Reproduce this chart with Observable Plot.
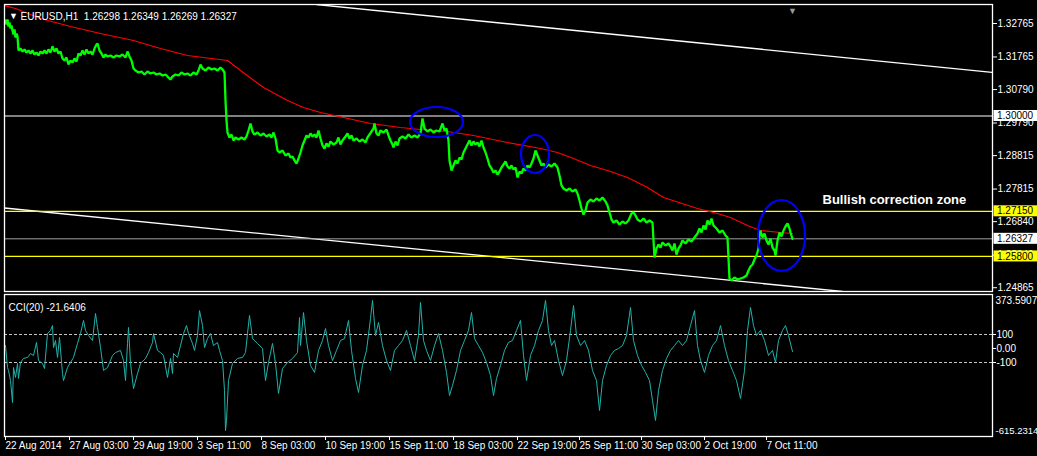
<!DOCTYPE html>
<html><head><meta charset="utf-8">
<script src="https://cdn.jsdelivr.net/npm/d3@7"></script>
<script src="https://cdn.jsdelivr.net/npm/@observablehq/plot@0.6"></script>
<style>
html,body{margin:0;padding:0;background:#000;}
#wrap{position:relative;width:1037px;height:456px;overflow:hidden;background:#000;}
#main{position:absolute;left:0;top:0;}
#cci{position:absolute;left:0;top:293px;}
svg{display:block;}
</style></head><body><div id="wrap"><div id="main"></div><div id="cci"></div></div>
<script>
// ---- data (bar index = hourly bar position, price in EURUSD) ----
const priceBar = [0,1,2,3,4,5,6,7,8,9,10,11,12,13,15,17,19,21,23,25,27,29,31,33,35,37,39,41,43,45,47,49,51,53,55,57,59,61,63,65,67,69,71,73,75,77,79,81,83,85,87,89,91,92,94,96,98,100,102,105,108,111,114,117,120,122,124,126,128,130,133,136,139,142,145,148,151,154,157,160,163,165,167,170,173,176,179,182,185,188,191,193,195,197,200,203,206,209,212,215,217,219,220,221,222,224,226,228,230,233,236,239,241,243,245,247,249,252,255,258,261,264,266,268,270,272,274,277,280,283,285,287,289,291,293,295,297,299,301,303,305,307,309,311,313,315,317,319,321,323,325,328,331,333,335,337,340,342,344,346,348,351,354,357,360,362,364,366,368,369,371,373,375,378,381,383,385,387,388,390,392,394,397,400,403,406,409,412,415,417,419,422,425,428,431,434,437,439,441,443,444,446,448,450,452,454,456,458,460,462,464,466,468,470,472,474,476,478,480,482,484,486,488,490,492,494,496,498,500,502,504,506,508,510,512,514,516,518,520,522,524,526,528,530,532,534,536,538,540,543,546,549,552,554,556,558,561,564,567,570,572,574,576,578,580,582,585,588,591,594,597,600,602,604,606,608,611,614,617,620,623,626,628,630,632,635,638,641,644,647,648,649,651,653,655,657,660,663,665,667,669,671,673,675,677,680,683,686,689,692,694,696,698,700,702,704,706,708,711,714,717,720,722,724,726,729,732,735,738,741,743,745,747,749,751,753,754,755,757,759,761,763,765,767,769,770,772,774,776,778,780,782,784,785,787];
const priceClose = [1.32855,1.32735,1.32885,1.32676,1.32795,1.32616,1.32706,1.32556,1.32436,1.32586,1.32347,1.32466,1.32377,1.31958,1.32018,1.31928,1.31988,1.31898,1.31958,1.31868,1.31958,1.31838,1.31898,1.31809,1.31928,1.31868,1.31958,1.31868,1.31988,1.31898,1.32078,1.31928,1.32018,1.31868,1.31928,1.31719,1.31659,1.31749,1.31539,1.31659,1.31599,1.31719,1.31629,1.31868,1.31809,1.31958,1.31838,1.31988,1.31868,1.31928,1.31838,1.32018,1.32137,1.32167,1.31958,1.31868,1.31749,1.31838,1.31779,1.31809,1.31749,1.31809,1.31779,1.31838,1.31749,1.31928,1.31779,1.31659,1.31420,1.31360,1.31300,1.31330,1.31240,1.31330,1.31270,1.31300,1.31240,1.31270,1.31211,1.31240,1.31151,1.31091,1.31181,1.31240,1.31211,1.31300,1.31240,1.31270,1.31211,1.31300,1.31240,1.31360,1.31539,1.31420,1.31360,1.31450,1.31390,1.31420,1.31360,1.31450,1.31390,1.31300,1.30463,1.29865,1.29506,1.29357,1.29446,1.29267,1.29357,1.29297,1.29357,1.29297,1.29387,1.29566,1.29775,1.29536,1.29446,1.29506,1.29417,1.29476,1.29387,1.29446,1.29357,1.29506,1.29327,1.28968,1.28908,1.28968,1.28819,1.28878,1.28759,1.28789,1.28669,1.28579,1.28729,1.28908,1.29118,1.29267,1.29417,1.29357,1.29476,1.29387,1.29446,1.29357,1.29566,1.29327,1.29118,1.29028,1.29177,1.29088,1.29237,1.29147,1.29207,1.29357,1.29147,1.29267,1.29387,1.29476,1.29327,1.29417,1.29267,1.29327,1.29237,1.29297,1.29207,1.29357,1.29446,1.29536,1.29626,1.29775,1.29476,1.29417,1.29566,1.29506,1.29596,1.29417,1.29267,1.29147,1.29058,1.29237,1.29118,1.29327,1.29387,1.29327,1.29446,1.29357,1.29417,1.29357,1.29476,1.29925,1.29626,1.29536,1.29596,1.29506,1.29566,1.29536,1.29775,1.29566,1.29626,1.29267,1.28669,1.28370,1.28520,1.28669,1.28579,1.28759,1.28699,1.28908,1.29028,1.29147,1.29267,1.29118,1.29237,1.29147,1.29207,1.29088,1.29267,1.29058,1.28908,1.28729,1.28520,1.28430,1.28310,1.28370,1.28250,1.28340,1.28460,1.28549,1.28639,1.28490,1.28430,1.28520,1.28400,1.28460,1.28161,1.28340,1.28280,1.28430,1.28370,1.28520,1.28460,1.28579,1.28729,1.28968,1.28819,1.28669,1.28520,1.28579,1.28460,1.28549,1.28490,1.28579,1.28460,1.28221,1.27922,1.27832,1.27772,1.27832,1.27742,1.27802,1.27682,1.27473,1.27234,1.27054,1.27174,1.27413,1.27503,1.27443,1.27533,1.27473,1.27563,1.27443,1.27324,1.27114,1.26905,1.26815,1.26875,1.26755,1.26845,1.26785,1.26875,1.27084,1.27114,1.27025,1.26905,1.26845,1.26935,1.26815,1.26875,1.26815,1.26277,1.25769,1.26038,1.26157,1.26068,1.26217,1.26128,1.26187,1.26098,1.25978,1.26187,1.25858,1.26038,1.26128,1.26277,1.26187,1.26307,1.26247,1.26367,1.26486,1.26636,1.26516,1.26726,1.26606,1.26875,1.26755,1.26935,1.26726,1.26636,1.26516,1.26576,1.26427,1.26367,1.25141,1.25081,1.25171,1.25111,1.25141,1.25171,1.25231,1.25380,1.25500,1.25559,1.25709,1.25829,1.26038,1.26427,1.26576,1.26367,1.26486,1.26277,1.26157,1.26337,1.26068,1.25978,1.25829,1.26277,1.26516,1.26397,1.26576,1.26696,1.26785,1.26636,1.26516,1.26327];

const maBar = [0,10,35,65,95,128,155,182,222,235,258,282,298,315,338,365,395,415,442,468,502,535,552,568,585,602,622,642,658,692,712,725,742,755,775,787];
const maValue = [1.33290,1.33214,1.32915,1.32676,1.32466,1.32257,1.32018,1.31809,1.31659,1.31360,1.30852,1.30463,1.30254,1.30104,1.29955,1.29775,1.29656,1.29596,1.29536,1.29417,1.29207,1.29028,1.28908,1.28729,1.28520,1.28370,1.28161,1.27862,1.27563,1.27234,1.27084,1.26965,1.26726,1.26576,1.26516,1.26486];

const cciBar = [0,2,3,5,7,8,10,12,13,15,18,22,25,28,31,33,37,39,42,45,47,48,50,52,54,57,58,62,65,68,72,75,78,80,83,87,90,92,95,98,102,107,110,115,118,120,122,123,125,128,132,135,140,143,147,148,152,155,158,162,165,167,168,172,175,178,181,183,187,189,192,194,197,199,202,205,208,212,214,217,219,220,221,223,227,232,237,240,242,244,247,252,257,260,263,267,270,273,277,282,287,292,294,295,298,301,305,309,313,317,320,323,327,331,335,339,343,346,350,353,357,361,365,367,370,373,377,381,385,389,393,397,401,405,409,413,415,418,421,425,429,433,437,441,444,447,451,455,459,463,466,469,473,477,481,485,488,491,495,499,503,507,511,515,518,521,525,529,533,537,540,543,546,549,553,557,561,565,568,571,575,579,583,587,591,594,597,601,605,609,613,617,621,625,628,632,636,640,644,647,650,653,657,661,665,669,673,677,681,685,689,692,695,699,703,707,711,715,719,723,727,731,735,739,742,745,748,751,755,759,763,767,770,773,777,780,783,787];
const cciValue = [21,-136,-157,-229,-386,-136,-207,-107,-214,-100,-71,-64,-36,-50,43,-86,-107,-143,107,129,164,7,57,-64,79,-179,-229,-136,-100,-64,36,107,200,129,93,57,250,150,7,-157,-136,-50,-29,-14,-86,-229,36,150,-107,-286,-179,-107,-71,-29,43,107,-14,-29,-50,-207,-71,-179,-36,-64,21,107,164,107,36,-14,93,271,164,7,71,107,21,43,-14,-86,-300,-586,-514,-229,-107,-71,-64,-29,107,236,71,36,0,-229,-100,36,-107,-321,-143,-100,-71,-29,221,21,257,57,-121,-171,-14,57,143,21,-86,-14,57,71,200,-14,-214,-314,-121,-14,214,343,93,186,21,-86,-157,-14,21,57,129,21,-86,93,329,57,-14,-86,21,107,-14,-171,-336,-264,-157,-14,57,129,257,71,21,-29,-100,-193,-336,-214,-121,-14,43,57,129,200,-50,-229,-50,21,129,200,343,129,21,57,-86,-193,-86,129,307,93,21,57,-14,-157,-229,-443,-229,-121,-50,-14,0,21,93,293,57,-50,-121,-171,-229,-371,-514,-300,-157,-71,-14,21,57,21,57,164,271,21,-86,-171,-50,21,57,164,21,-86,-157,-229,-357,-157,129,293,164,93,129,57,-50,-14,-100,57,129,164,93,-21.6406];

const upperTrendBar = [311, 987];
const upperTrendPrice = [1.33333, 1.31300];
const lowerTrendBar = [-1, 837];
const lowerTrendPrice = [1.27249, 1.24752];

const whiteLevels = [1.30000];
const yellowLevels = [1.27150, 1.25800];
const currentLevel = [1.26327];

const priceTicks = [1.32765, 1.31765, 1.30790, 1.29790, 1.28815, 1.27815, 1.26840, 1.25840, 1.24865];
const markedLevels = [1.30000, 1.27150, 1.26327, 1.25800];
const markedKinds = ["white", "yellow", "white", "yellow"];

const timeTickBars = [0, 64, 128, 192, 256, 320, 384, 448, 512, 574, 636, 699, 761];
const timeTickLabels = ["22 Aug 2014","27 Aug 03:00","29 Aug 19:00","3 Sep 11:00","8 Sep 03:00","10 Sep 19:00","15 Sep 11:00","18 Sep 03:00","22 Sep 19:00","25 Sep 11:00","30 Sep 03:00","2 Oct 19:00","7 Oct 11:00"];

const cciLevels = [100, -100];
const cciTicks = [100, 0, -100];
const cciMax = 373.5907, cciMin = -615.2314;

const headerText = "EURUSD,H1\u00a0 1.26298 1.26349 1.26269 1.26327";
const cciTitle = "CCI(20) -21.6406";
const zoneText = "Bullish correction zone";
const zoneBar = 817, zonePrice = 1.27503;

// ellipse annotations: centre bar, centre price, half-width in bars, half-height in price
const ellBar = [431.5, 530, 776.5];
const ellPrice = [1.29805, 1.28848, 1.26412];
const ellRx = [26.5, 14, 23.5];
const ellRy = [0.00449, 0.00568, 0.01061];

// ---- build ----
const FONT = "'Liberation Sans', Arial, sans-serif";
const priceData = priceBar.map((b, i) => ({bar: b, price: priceClose[i]}));
const maData = maBar.map((b, i) => ({bar: b, price: maValue[i]}));
const upData = upperTrendBar.map((b, i) => ({bar: b, price: upperTrendPrice[i]}));
const loData = lowerTrendBar.map((b, i) => ({bar: b, price: lowerTrendPrice[i]}));
const cciData = cciBar.map((b, i) => ({bar: b, v: cciValue[i]}));
const lastBar = priceBar[priceBar.length - 1];

const baseStyle = {background: "#000", color: "#fff", fontFamily: FONT, fontSize: "10px", overflow: "visible"};

const main = Plot.plot({
  width: 1037, height: 292,
  marginLeft: 4, marginRight: 45, marginTop: 4, marginBottom: 1,
  style: baseStyle,
  x: {domain: [-1, 987], axis: null},
  y: {domain: [1.247521, 1.333334], axis: null},
  marks: [
    Plot.line(upData, {x: "bar", y: "price", stroke: "#fff", strokeWidth: 1.3, clip: true}),
    Plot.line(loData, {x: "bar", y: "price", stroke: "#fff", strokeWidth: 1.3, clip: true}),
    Plot.ruleY(whiteLevels, {stroke: "#fff", strokeWidth: 1.2}),
    Plot.ruleY(yellowLevels, {stroke: "#ffff00", strokeWidth: 1.2}),
    Plot.ruleY(currentLevel, {stroke: "#a0a0a4", strokeWidth: 1}),
    Plot.line(maData, {x: "bar", y: "price", stroke: "#ff0000", strokeWidth: 1.2}),
    Plot.line(priceData, {x: "bar", y: "price", stroke: "#00ff00", strokeWidth: 2.3, strokeLinejoin: "miter"}),
    Plot.axisY({ticks: priceTicks, anchor: "right", label: null, tickSize: 4, tickPadding: 1, tickFormat: d => d.toFixed(5), stroke: "#fff", fill: "#fff"}),
    Plot.frame({stroke: "#fff", strokeWidth: 1.3}),
    Plot.text(["\u25BC"], {frameAnchor: "top-left", dx: 9, dy: 8, fill: "#fff", fontSize: 9, textAnchor: "middle"}),
    Plot.text([headerText], {frameAnchor: "top-left", dx: 16, dy: 8.5, fill: "#fff", textAnchor: "start", fontSize: 10}),
    Plot.text(["\u25BC"], {x: () => lastBar, frameAnchor: "top", dy: 3, fill: "#9a9a9a", fontSize: 9}),
    Plot.text([zoneText], {x: () => zoneBar, y: () => zonePrice, textAnchor: "start", fill: "#fff", fontWeight: "bold", fontSize: 13})
  ]
});
document.getElementById("main").appendChild(main);

// price-level tags and ellipses, placed with the plot's own scales
{
  const xs = main.scale("x"), ys = main.scale("y");
  const right = xs.range[1];
  const svg = d3.select(main);
  const g = svg.append("g").attr("font-family", FONT).attr("font-size", 10).attr("text-anchor", "start");
  markedLevels.forEach((p, i) => {
    const y = ys.apply(p);
    g.append("rect").attr("x", right + 1.5).attr("y", y - 5.5).attr("width", 44).attr("height", 11)
      .attr("fill", markedKinds[i] === "yellow" ? "#ffff00" : "#ffffff");
    g.append("text").attr("x", right + 5).attr("y", y).attr("dy", "0.36em").attr("fill", "#000")
      .attr("text-anchor", "start").text(p.toFixed(5));
  });
  const eg = svg.append("g");
  ellBar.forEach((b, i) => {
    const cx = xs.apply(b), cy = ys.apply(ellPrice[i]);
    const rx = xs.apply(b + ellRx[i]) - cx;
    const ry = Math.abs(ys.apply(ellPrice[i] + ellRy[i]) - cy);
    eg.append("ellipse").attr("cx", cx).attr("cy", cy).attr("rx", rx).attr("ry", ry)
      .attr("fill", "none").attr("stroke", "#0000ff").attr("stroke-width", 2.2);
  });
}

const labelOf = new Map(timeTickBars.map((b, i) => [b, timeTickLabels[i]]));
const cci = Plot.plot({
  width: 1037, height: 163,
  marginLeft: 4, marginRight: 45, marginTop: 1, marginBottom: 20,
  style: baseStyle,
  x: {domain: [-1, 987], axis: null},
  y: {domain: [-628.6, 385.7], axis: null},
  marks: [
    Plot.ruleY(cciLevels, {stroke: "#c8c8c8", strokeDasharray: "3,2"}),
    Plot.line(cciData, {x: "bar", y: "v", stroke: "#20b2aa", strokeWidth: 1}),
    Plot.frame({stroke: "#fff", strokeWidth: 1.3}),
    Plot.axisX({ticks: timeTickBars, anchor: "bottom", label: null, tickSize: 4, tickPadding: 1, tickFormat: d => labelOf.get(d), textAnchor: "start", dx: 0, stroke: "#fff", fill: "#fff"}),
    Plot.axisY({ticks: cciTicks, anchor: "right", label: null, tickSize: 3, tickPadding: 1, tickFormat: d => d === 0 ? "0.00" : String(d), stroke: "#fff", fill: "#fff"}),
    Plot.text([cciMax], {y: d => d, frameAnchor: "right", dx: 3, dy: 5, textAnchor: "start", fill: "#fff", text: d => d.toFixed(4)}),
    Plot.text([cciMin], {y: d => d, frameAnchor: "right", dx: 3, dy: -4, textAnchor: "start", fill: "#fff", fontSize: 9.5, text: d => d.toFixed(4)}),
    Plot.text([cciTitle], {frameAnchor: "top-left", dx: 4, dy: 9, textAnchor: "start", fill: "#fff"})
  ]
});
document.getElementById("cci").appendChild(cci);
</script>
</body></html>
